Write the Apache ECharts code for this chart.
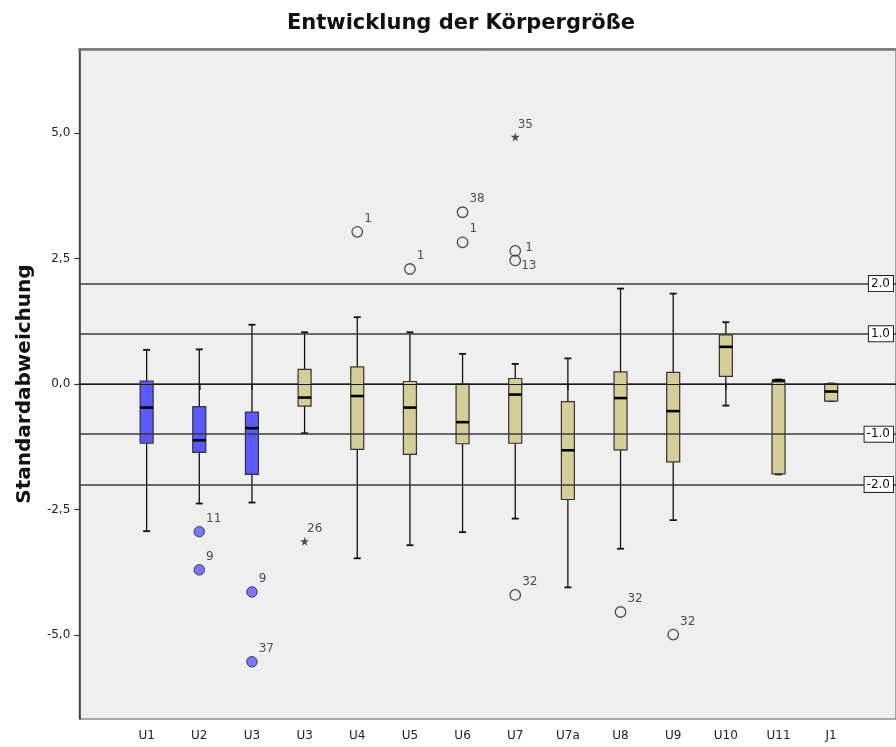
<!DOCTYPE html>
<html>
<head>
<meta charset="utf-8">
<script src="https://cdn.jsdelivr.net/npm/echarts@6/dist/echarts.min.js"></script>
<style>
html,body{margin:0;padding:0;background:#fff;}
#chart{width:896px;height:747px;}
</style>
</head>
<body>
<div id="chart"></div>
<script>
// ---- data ----
const categories = ['U1','U2','U3','U3','U4','U5','U6','U7','U7a','U8','U9','U10','U11','J1'];
const whiskerLow  = [-2.93,-2.38,-2.36,-0.98,-3.47,-3.21,-2.95,-2.68,-4.05,-3.28,-2.71,-0.43,-1.80,-0.34];
const q1          = [-1.18,-1.36,-1.80,-0.44,-1.30,-1.40,-1.19,-1.18,-2.30,-1.31,-1.55, 0.15,-1.79,-0.34];
const median      = [-0.47,-1.12,-0.88,-0.27,-0.24,-0.47,-0.76,-0.21,-1.32,-0.28,-0.54, 0.74, 0.07,-0.15];
const q3          = [ 0.06,-0.45,-0.56, 0.29, 0.34, 0.05, 0.00, 0.11,-0.35, 0.24, 0.23, 0.98, 0.04, 0.01];
const whiskerHigh = [ 0.68, 0.69, 1.18, 1.03, 1.33, 1.03, 0.60, 0.40, 0.51, 1.90, 1.80, 1.23, 0.09, 0.01];

const outlierCat   = [1, 1, 2, 2, 3, 4, 5, 6, 6, 7, 7, 7, 7, 9, 10];
const outlierValue = [-2.94, -3.70, -4.14, -5.53, -3.13, 3.03, 2.29, 3.42, 2.82, 4.92, 2.65, 2.46, -4.20, -4.54, -4.99];
const outlierLabel = ['11', '9', '9', '37', '26', '1', '1', '38', '1', '35', '1', '13', '32', '32', '32'];
const outlierKind  = ['o', 'o', 'o', 'o', '*', 'o', 'o', 'o', 'o', '*', 'o', 'o', 'o', 'o', 'o'];

const refLevels = [2, 1, 0, -1, -2];
const refLabels = ['2.0', '1.0', '', '-1.0', '-2.0'];

const yTicks = [-5, -2.5, 0, 2.5, 5];
const yMin = -6.67, yMax = 6.67;

// ---- styles ----
const BLUE = '#5a5afc';
const TAN = '#d4ce98';
const STAR = 'path://M50,0 L61,35 L98,35 L68,57 L79,91 L50,70 L21,91 L32,57 L2,35 L39,35 Z';
const FONT = 'DejaVu Sans';

const boxData = categories.map((c, i) => [i, whiskerLow[i], q1[i], median[i], q3[i], whiskerHigh[i]]);

const specialOffsets = { 10: [3, -3], 11: [-1, 5] };
const outlierData = outlierCat.map((c, k) => {
  const isStar = outlierKind[k] === '*';
  const blue = c < 3 && !isStar;
  return {
    value: [c, outlierValue[k]],
    name: outlierLabel[k],
    symbol: isStar ? STAR : 'circle',
    symbolSize: isStar ? 9 : 10.5,
    itemStyle: isStar
      ? { color: '#222', borderWidth: 0 }
      : (blue ? { color: BLUE, borderColor: '#222', borderWidth: 1 }
              : { color: 'rgba(0,0,0,0)', borderColor: '#222', borderWidth: 1.3 }),
    label: { offset: specialOffsets[k] || (isStar ? [-3, -12] : [0, -13]) }
  };
});

const refLineData = refLevels.map((v, i) => ({
  yAxis: v,
  lineStyle: v === 0 ? { color: '#1a1a1a', width: 1, type: 'solid' } : { color: '#3a3a3a', width: 1.6, type: 'solid' },
  label: { show: refLabels[i] !== '', formatter: refLabels[i] }
}));

const chart = echarts.init(document.getElementById('chart'), null, { renderer: 'canvas' });
chart.setOption({
  backgroundColor: '#ffffff',
  animation: false,
  title: {
    text: 'Entwicklung der Körpergröße',
    left: 456, textAlign: 'center', top: 8,
    textStyle: { fontFamily: FONT, fontSize: 21, fontWeight: 'bold', color: '#111' }
  },
  grid: [
    { left: 79.3, right: -6, top: 49, bottom: 28, show: true, backgroundColor: '#efefef', borderColor: '#555', borderWidth: 1 },
    { left: 120.3, right: 38.5, top: 49, bottom: 28 }
  ],
  xAxis: [
    { gridIndex: 0, type: 'value', min: 0, max: 1, position: 'bottom',
      axisLine: { show: true, lineStyle: { color: '#333', width: 1.5 } },
      axisTick: { show: false }, axisLabel: { show: false }, splitLine: { show: false } },
    { gridIndex: 0, type: 'value', min: 0, max: 1, position: 'top',
      axisLine: { show: true, lineStyle: { color: '#777', width: 2.5 } },
      axisTick: { show: false }, axisLabel: { show: false }, splitLine: { show: false } },
    { gridIndex: 1, type: 'category', data: categories, position: 'bottom',
      axisLine: { show: false },
      axisTick: { show: true, alignWithLabel: true, length: 6, lineStyle: { color: '#333', width: 1.5 } },
      axisLabel: { interval: 0, margin: 11, fontFamily: FONT, fontSize: 12, color: '#222' },
      splitLine: { show: false } }
  ],
  yAxis: [
    { gridIndex: 0, type: 'value', min: yMin, max: yMax,
      name: 'Standardabweichung', nameLocation: 'middle', nameGap: 45, nameRotate: 90,
      nameTextStyle: { fontFamily: FONT, fontSize: 20, fontWeight: 'bold', color: '#111' },
      axisLine: { show: true, lineStyle: { color: '#333', width: 1.5 } },
      axisTick: { show: true, length: 5, customValues: yTicks, lineStyle: { color: '#333', width: 1.2 } },
      axisLabel: { customValues: yTicks, margin: 9, fontFamily: FONT, fontSize: 12, color: '#222',
        formatter: v => v.toFixed(1).replace('.', ',') },
      splitLine: { show: false } },
    { gridIndex: 1, type: 'value', min: yMin, max: yMax, show: false,
      axisLine: { show: false }, axisTick: { show: false }, axisLabel: { show: false }, splitLine: { show: false } }
  ],
  series: [
    {
      type: 'custom', xAxisIndex: 2, yAxisIndex: 1, z: 2,
      data: boxData,
      encode: { x: 0, y: [1, 2, 3, 4, 5] },
      renderItem: function (params, api) {
        const i = api.value(0);
        const lo = api.coord([i, api.value(1)]);
        const b1 = api.coord([i, api.value(2)]);
        const md = api.coord([i, api.value(3)]);
        const b3 = api.coord([i, api.value(4)]);
        const hi = api.coord([i, api.value(5)]);
        const x = lo[0];
        const w = 13;
        const cap = 7;
        const fill = i < 3 ? BLUE : TAN;
        const wl = { stroke: '#111', lineWidth: 1.3 };
        const cl = { stroke: '#111', lineWidth: 1.8 };
        return {
          type: 'group',
          children: [
            { type: 'line', shape: { x1: x, y1: hi[1], x2: x, y2: b3[1] }, style: wl },
            { type: 'line', shape: { x1: x, y1: b1[1], x2: x, y2: lo[1] }, style: wl },
            { type: 'line', shape: { x1: x - cap / 2, y1: hi[1], x2: x + cap / 2, y2: hi[1] }, style: cl },
            { type: 'line', shape: { x1: x - cap / 2, y1: lo[1], x2: x + cap / 2, y2: lo[1] }, style: cl },
            { type: 'rect', shape: { x: x - w / 2, y: b3[1], width: w, height: b1[1] - b3[1] },
              style: { fill: fill, stroke: '#333', lineWidth: 1.2 } },
            { type: 'line', shape: { x1: x - w / 2, y1: md[1], x2: x + w / 2, y2: md[1] },
              style: { stroke: '#000', lineWidth: 2.6 } }
          ]
        };
      }
    },
    {
      type: 'line', xAxisIndex: 0, yAxisIndex: 0, z: 5,
      data: [],
      markLine: {
        silent: true, symbol: ['none', 'none'], animation: false,
        label: { position: 'insideEnd', distance: 3, fontFamily: FONT, fontSize: 12, color: '#111',
          backgroundColor: '#fff', borderColor: '#222', borderWidth: 1, padding: [2, 3, 1, 2] },
        data: refLineData
      }
    },
    {
      type: 'scatter', xAxisIndex: 2, yAxisIndex: 1, z: 6,
      data: outlierData,
      label: { show: true, position: 'right', distance: 1, formatter: p => p.name,
        fontFamily: FONT, fontSize: 12, color: '#222' }
    }
  ]
});
</script>
</body>
</html>
